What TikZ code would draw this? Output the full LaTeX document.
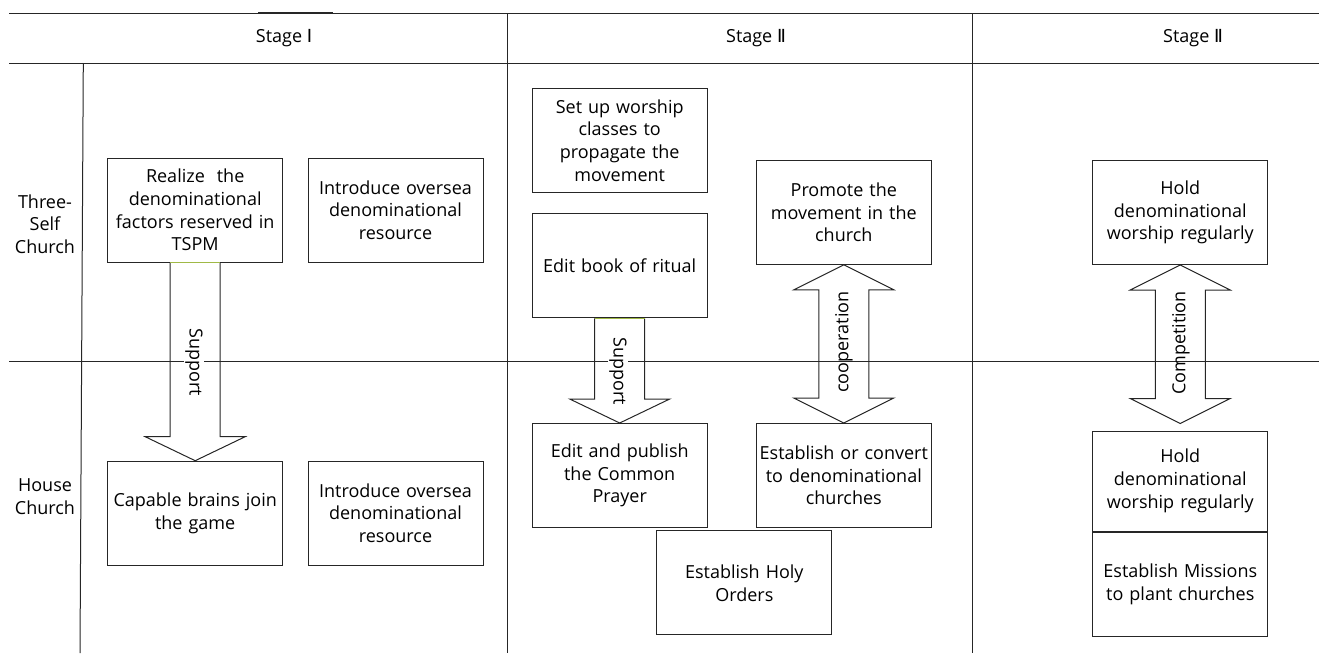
\documentclass[tikz,border=0pt]{standalone}
\usepackage{fontspec}
\setmainfont{Open Sans}
\newfontfamily\numfont{DejaVu Sans}
\usetikzlibrary{calc}
\definecolor{ln}{gray}{0.15}
\definecolor{txt}{gray}{0.0}
\definecolor{shaftgreen}{RGB}{160,185,70}
\begin{document}
\begin{tikzpicture}[x=1pt,y=-1pt,
  grid/.style={draw=ln, line width=1pt},
  box/.style={draw=ln, line width=1pt, minimum width=175pt, minimum height=104pt,
    text width=172pt, align=center, inner sep=0pt, text=txt,
    font=\fontsize{18}{22.7}\selectfont},
  lbl/.style={align=center, inner sep=0pt, text=txt, font=\fontsize{18}{22.7}\selectfont},
  blockarrow/.style={draw=ln, line width=1pt, line join=miter},
  arrowtext/.style={inner sep=1.5pt, text=txt, font=\fontsize{18}{20}\selectfont}
]
\useasboundingbox (0,0) rectangle (1319,653);

% grid lines
\draw[grid] (9,13) -- (1319,13);
\draw[draw=ln, line width=2.2pt] (258,13) -- (333,13);
\draw[grid] (9,63) -- (1319,63);
\draw[grid] (9,361.7) -- (1319,361.7);
\draw[grid] (83.3,63) -- (80,653);
\draw[grid] (507.3,13) -- (507.3,653);
\draw[grid] (972,13) -- (972,653);

% headers
\node[lbl] (h1) at (284,38) {Stage {\numfont Ⅰ}};
\node[lbl] (h2) at (756,38) {Stage {\numfont Ⅱ}};
\node[lbl] (h3) at (1193,38) {Stage {\numfont Ⅱ}};

% row labels
\node[lbl] (r1lbl) at (45,224) {Three-\\Self\\Church};
\node[lbl] (r2lbl) at (45,497) {House\\Church};

% stage I
\node[box] (a1) at (195.2,210) {Realize\ \ the\\denominational\\factors reserved in\\TSPM};
\node[box] (a2) at (395.5,210) {Introduce oversea\\denominational\\resource};
\node[box] (b1) at (195.2,513.2) {Capable brains join\\the game};
\node[box] (b2) at (395.5,513.2) {Introduce oversea\\denominational\\resource};

% stage II
\node[box] (c1) at (619.7,140.3) {Set up worship\\classes to\\propagate the\\movement};
\node[box] (c2) at (619.7,265.9) {Edit book of ritual};
\node[box] (c3) at (843.8,212.3) {Promote the\\movement in the\\church};
\node[box] (c4) at (619.7,475.5) {Edit and publish\\the Common\\Prayer};
\node[box] (c5) at (843.8,475.5) {Establish or convert\\to denominational\\churches};
\node[box] (c6) at (744.3,582.9) {Establish Holy\\Orders};

% stage III
\node[box] (d1) at (1180.3,212.5) {Hold\\denominational\\worship regularly};
\node[box, minimum height=100pt] (d2) at (1180.3,481) {Hold\\denominational\\worship regularly};
\node[box, minimum height=104pt, anchor=north] (d3) at (d2.south) {Establish Missions\\to plant churches};
\coordinate (d2top) at ($(d2.north)+(0,-7)$);

% support arrow stage I
\draw[blockarrow] ($(a1.south)+(-25,0)$) -- ($(b1.north)+(-25,-24)$) -- ($(b1.north)+(-50,-24)$)
  -- (b1.north) -- ($(b1.north)+(50,-24)$) -- ($(b1.north)+(25,-24)$) -- ($(a1.south)+(25,0)$);
\draw[shaftgreen, line width=1pt] ($(a1.south)+(-25,0)$) -- ($(a1.south)+(25,0)$);

% support arrow stage II
\draw[blockarrow] ($(c2.south)+(-25,0)$) -- ($(c4.north)+(-25,-24)$) -- ($(c4.north)+(-50,-24)$)
  -- (c4.north) -- ($(c4.north)+(50,-24)$) -- ($(c4.north)+(25,-24)$) -- ($(c2.south)+(25,0)$);
\draw[shaftgreen, line width=1pt] ($(c2.south)+(-25,0)$) -- ($(c2.south)+(25,0)$);

% cooperation double arrow
\draw[blockarrow] (c3.south) -- ++(50,25) -- ++(-25,0) -- ($(c5.north)+(25,-25)$) -- ++(25,0)
  -- (c5.north) -- ++(-50,-25) -- ++(25,0) -- ($(c3.south)+(-25,25)$) -- ++(-25,0) -- cycle;

% competition double arrow
\draw[blockarrow] (d1.south) -- ++(50,25) -- ++(-25,0) -- ($(d2top)+(25,-25)$) -- ++(25,0)
  -- (d2top) -- ++(-50,-25) -- ++(25,0) -- ($(d1.south)+(-25,25)$) -- ++(-25,0) -- cycle;

% arrow labels
\node[arrowtext, rotate=-90, fill=white] (s1) at (194,362) {Support};
\node[arrowtext, rotate=-90, fill=white] (s2) at (618,371) {Support};
\node[arrowtext, rotate=90] (coop) at (844,342) {cooperation};
\node[arrowtext, rotate=90] (comp) at (1181,343) {Competition};
\end{tikzpicture}
\end{document}
